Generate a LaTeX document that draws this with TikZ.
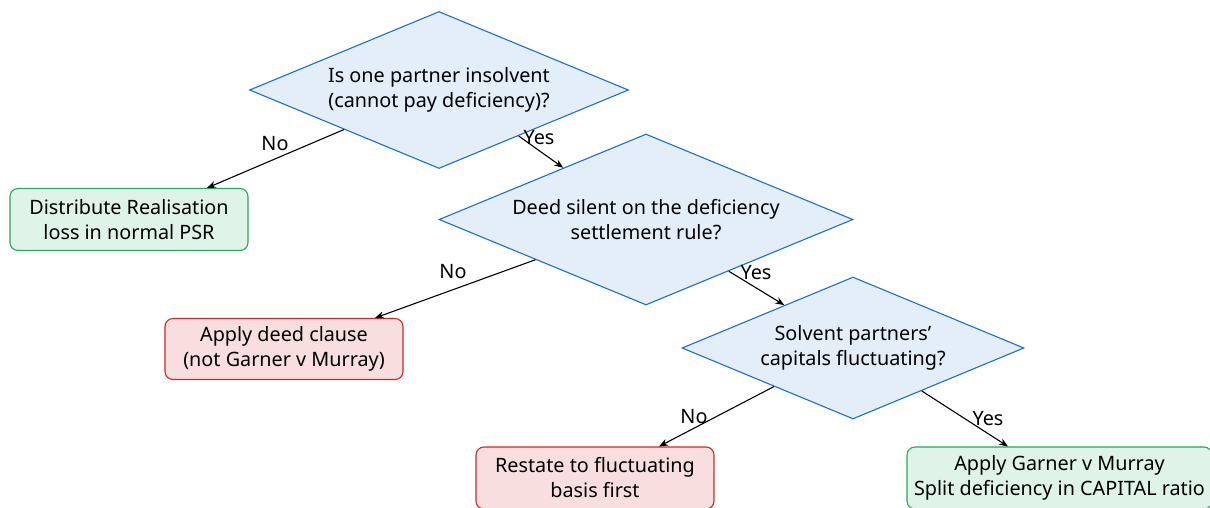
\documentclass[tikz,border=0pt]{standalone}
\usepackage{fontspec}
\setmainfont{Noto Sans}
\usetikzlibrary{shapes.geometric,arrows.meta}
\definecolor{dfill}{HTML}{E3EEF9}
\definecolor{dline}{HTML}{1C6FD1}
\definecolor{gfill}{HTML}{DFF3E8}
\definecolor{gline}{HTML}{2BA65A}
\definecolor{rfill}{HTML}{F8DEDF}
\definecolor{rline}{HTML}{CC2A2A}
\tikzset{
  txt/.style={font=\fontsize{19.8}{25}\selectfont},
  decision/.style={txt, diamond, draw=dline, fill=dfill, line width=1.1pt, inner sep=0pt, align=center},
  okbox/.style={txt, rectangle, rounded corners=8pt, draw=gline, fill=gfill, line width=1.1pt, align=center, minimum width=238pt},
  badbox/.style={txt, rectangle, rounded corners=8pt, draw=rline, fill=rfill, line width=1.1pt, align=center, minimum width=238pt},
  conn/.style={draw=black, line width=1.1pt, -{Stealth[length=9pt,width=7pt]}},
  lbl/.style={txt, inner sep=0pt}
}
\begin{document}
\begin{tikzpicture}[x=1pt,y=-1pt]
\useasboundingbox (0,0) rectangle (1210,507);
\clip (0,0) rectangle (1210,507);
\node[decision, minimum width=379pt, minimum height=157pt, aspect=2.41] (d1) at (439,90) {Is one partner insolvent\\(cannot pay deficiency)?};
\node[decision, minimum width=414pt, minimum height=171pt, aspect=2.42] (d2) at (646,219.5) {Deed silent on the deficiency\\settlement rule?};
\node[decision, minimum width=342pt, minimum height=142pt, aspect=2.41] (d3) at (853,348) {Solvent partners’\\capitals fluctuating?};
\node[okbox, minimum height=62pt] (b1) at (129,219.5) {Distribute Realisation\\loss in normal PSR};
\node[badbox, minimum height=61pt] (b2) at (284,349) {Apply deed clause\\(not Garner v Murray)};
\node[badbox, minimum height=62pt] (b3) at (595,478) {Restate to fluctuating\\basis first};
\node[okbox, minimum width=305pt, minimum height=62pt] (b4) at (1059.5,478) {Apply Garner v Murray\\Split deficiency in CAPITAL ratio};
\draw[conn] (d1.south west) -- ([xshift=78pt]b1.north);
\draw[conn] (d1.-30) -- (d2.148);
\draw[conn] (d2.200) -- ([xshift=91pt]b2.north);
\draw[conn] (d2.-32) -- (d3.148);
\draw[conn] (d3.206) -- ([xshift=64pt]b3.north);
\draw[conn] (d3.-32.5) -- ([xshift=-51.5pt]b4.north);
\node[lbl] (l1) at (275,144) {No};
\node[lbl] (l2) at (539,138) {Yes};
\node[lbl] (l3) at (453,272) {No};
\node[lbl] (l4) at (756,273) {Yes};
\node[lbl] (l5) at (694,417) {No};
\node[lbl] (l6) at (988,419) {Yes};
\end{tikzpicture}
\end{document}
